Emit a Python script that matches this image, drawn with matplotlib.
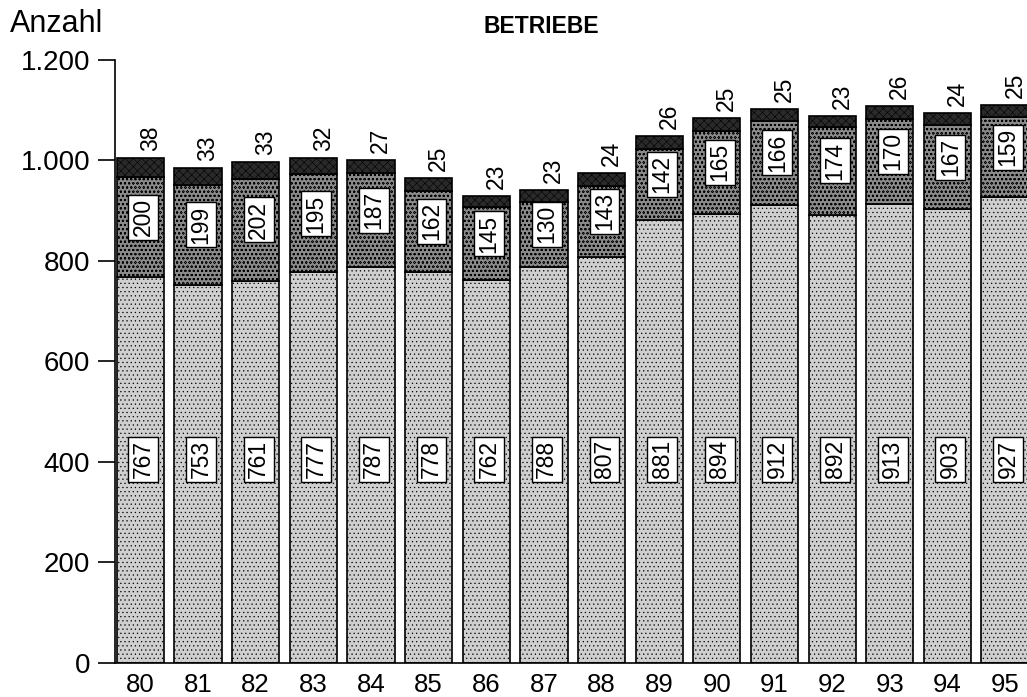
import matplotlib
matplotlib.use("Agg")
import matplotlib.pyplot as plt
import numpy as np

plt.rcParams['font.family'] = ['Liberation Sans', 'DejaVu Sans']
plt.rcParams['hatch.linewidth'] = 0.4

jahre = ["80", "81", "82", "83", "84", "85", "86", "87", "88", "89", "90", "91", "92", "93", "94", "95"]
unten = [767, 753, 761, 777, 787, 778, 762, 788, 807, 881, 894, 912, 892, 913, 903, 927]
mitte = [200, 199, 202, 195, 187, 162, 145, 130, 143, 142, 165, 166, 174, 170, 167, 159]
oben = [38, 33, 33, 32, 27, 25, 23, 23, 24, 26, 25, 25, 23, 26, 24, 25]

x = np.arange(len(jahre))
unten = np.array(unten)
mitte = np.array(mitte)
oben = np.array(oben)

fig = plt.figure(figsize=(10.27, 6.97), dpi=100)
ax = fig.add_axes([0.112, 0.049, 0.888, 0.865])

w = 0.82
ax.bar(x, unten, w, color="#cfcfcf", edgecolor="black", lw=1.2, hatch="....")
ax.bar(x, mitte, w, bottom=unten, color="#8a8a8a", edgecolor="black", lw=1.2, hatch="oooo")
ax.bar(x, oben, w, bottom=unten + mitte, color="#2a2a2a", edgecolor="black", lw=1.2, hatch="xxxx")

box = dict(boxstyle="square,pad=0.15", fc="white", ec="black", lw=1)
for i in range(len(x)):
    ax.text(x[i] + 0.05, 405, str(unten[i]), rotation=90, ha="center", va="center",
            fontsize=16.5, bbox=box)
    ax.text(x[i] + 0.05, unten[i] + mitte[i] / 2 + 20, str(mitte[i]), rotation=90,
            ha="center", va="center", fontsize=16.5, bbox=box)
    ax.text(x[i] + 0.17, unten[i] + mitte[i] + oben[i] + 14, str(oben[i]), rotation=90,
            ha="center", va="bottom", fontsize=16.5)

ax.set_xlim(-0.44, 15.38)
ax.set_ylim(0, 1200)
ax.set_yticks([0, 200, 400, 600, 800, 1000, 1200])
ax.set_yticklabels(["0", "200", "400", "600", "800", "1.000", "1.200"], fontsize=20)
ax.set_xticks(x)
ax.set_xticklabels(jahre, fontsize=18.5)
ax.tick_params(axis="x", length=0, pad=7)
ax.tick_params(axis="y", length=12, width=1.2, direction="out", pad=6)
ax.spines["top"].set_visible(False)
ax.spines["right"].set_visible(False)
ax.spines["left"].set_linewidth(1.2)
ax.spines["bottom"].set_linewidth(1.2)

fig.text(0.01, 0.965, "Anzahl", fontsize=22, va="center")
fig.text(0.527, 0.962, "BETRIEBE", fontsize=16.5, weight="bold", ha="center", va="center")

fig.savefig("out.png", dpi=100)
